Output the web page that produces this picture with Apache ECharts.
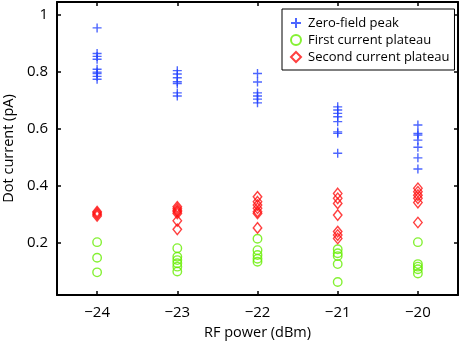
<!DOCTYPE html>
<html>
<head>
<meta charset="utf-8">
<script src="https://cdn.jsdelivr.net/npm/echarts@6/dist/echarts.min.js"></script>
<style>
  html, body { margin: 0; padding: 0; background: #fff; }
  #chart { width: 463px; height: 343px; }
</style>
</head>
<body>
<div id="chart"></div>
<script>
/* RF power values (dBm) */
var powers = [-24, -23, -22, -21, -20];

/* Dot current (pA), one list per RF power */
var zeroFieldPeak = [
  [0.955, 0.865, 0.855, 0.845, 0.81, 0.80, 0.795, 0.785, 0.775],
  [0.805, 0.793, 0.78, 0.766, 0.76, 0.727, 0.716],
  [0.795, 0.765, 0.727, 0.716, 0.705, 0.692],
  [0.678, 0.667, 0.655, 0.643, 0.626, 0.59, 0.585, 0.515],
  [0.614, 0.585, 0.579, 0.561, 0.536, 0.499, 0.46]
];
var firstPlateau = [
  [0.203, 0.148, 0.097],
  [0.182, 0.152, 0.14, 0.129, 0.117, 0.1],
  [0.215, 0.175, 0.158, 0.145, 0.134],
  [0.178, 0.164, 0.154, 0.126, 0.063],
  [0.203, 0.126, 0.117, 0.108, 0.093]
];
var secondPlateau = [
  [0.31, 0.305, 0.30, 0.295],
  [0.327, 0.32, 0.314, 0.31, 0.304, 0.278, 0.248],
  [0.362, 0.345, 0.333, 0.322, 0.31, 0.304, 0.253],
  [0.374, 0.357, 0.339, 0.298, 0.24, 0.228, 0.216],
  [0.392, 0.38, 0.368, 0.357, 0.342, 0.272]
];

var yTicks = [0.2, 0.4, 0.6, 0.8, 1];
var seriesNames = ['Zero-field peak', 'First current plateau', 'Second current plateau'];

function toPoints(groups) {
  var pts = [];
  groups.forEach(function (vals, i) {
    vals.forEach(function (v) { pts.push([powers[i], v]); });
  });
  return pts;
}

var font = '"Open Sans", sans-serif';
var chart = echarts.init(document.getElementById('chart'));

var frameLine = { show: true, onZero: false, lineStyle: { color: '#000', width: 2 } };

function ticks(vals) {
  return { show: true, inside: true, length: 4, lineStyle: { color: '#000', width: 1.5 }, customValues: vals };
}

var option = {
  animation: false,
  backgroundColor: '#fff',
  textStyle: { fontFamily: font, color: '#000' },
  grid: { left: 57, right: 5, top: 2, bottom: 48, outerBoundsMode: 'none', containLabel: false },
  legend: {
    orient: 'vertical',
    left: 282,
    top: 9,
    padding: [7, 5, 6, 8],
    itemGap: 3,
    itemWidth: 10,
    itemHeight: 10,
    backgroundColor: '#fff',
    borderColor: '#000',
    borderWidth: 1,
    textStyle: { fontFamily: font, fontSize: 13, color: '#000', lineHeight: 14, padding: [0, 0, 0, 2] },
    data: seriesNames
  },
  xAxis: [
    {
      type: 'value', min: -24.5, max: -19.5,
      name: 'RF power (dBm)', nameLocation: 'middle', nameGap: 29,
      nameTextStyle: { fontFamily: font, fontSize: 14.5, color: '#000' },
      axisLine: frameLine,
      axisTick: ticks(powers),
      axisLabel: {
        customValues: powers, margin: 10, fontFamily: font, fontSize: 15, color: '#000',
        formatter: function (v) { return String(v).replace('-', '\u2212'); }
      },
      splitLine: { show: false }
    },
    {
      type: 'value', position: 'top', min: -24.5, max: -19.5,
      axisLine: frameLine,
      axisTick: ticks(powers),
      axisLabel: { show: false, customValues: powers },
      splitLine: { show: false }
    }
  ],
  yAxis: [
    {
      type: 'value', min: 0.0175, max: 1.046,
      name: 'Dot current (pA)', nameLocation: 'middle', nameGap: 39,
      nameTextStyle: { fontFamily: font, fontSize: 14.5, color: '#000' },
      axisLine: frameLine,
      axisTick: ticks(yTicks),
      axisLabel: { customValues: yTicks, margin: 9, fontFamily: font, fontSize: 15, color: '#000' },
      splitLine: { show: false }
    },
    {
      type: 'value', position: 'right', min: 0.0175, max: 1.046,
      axisLine: frameLine,
      axisTick: ticks(yTicks),
      axisLabel: { show: false, customValues: yTicks },
      splitLine: { show: false }
    }
  ],
  series: [
    {
      name: seriesNames[0], type: 'scatter',
      symbol: 'path://M5,0 L5,10 M0,5 L10,5', symbolSize: 9,
      itemStyle: { color: 'rgba(0,0,0,0)', borderColor: '#2040ff', borderWidth: 1.4 },
      data: toPoints(zeroFieldPeak)
    },
    {
      name: seriesNames[1], type: 'scatter',
      symbol: 'circle', symbolSize: 8.5,
      itemStyle: { color: 'rgba(0,0,0,0)', borderColor: '#66ee00', borderWidth: 1.4 },
      data: toPoints(firstPlateau)
    },
    {
      name: seriesNames[2], type: 'scatter',
      symbol: 'diamond', symbolSize: [8.5, 10.5],
      itemStyle: { color: 'rgba(0,0,0,0)', borderColor: '#ff1010', borderWidth: 1.4 },
      data: toPoints(secondPlateau)
    }
  ]
};

chart.setOption(option);
</script>
</body>
</html>
